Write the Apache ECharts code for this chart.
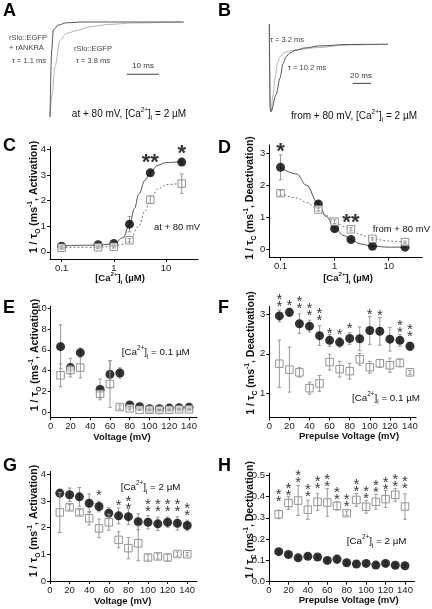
<!DOCTYPE html>
<html><head><meta charset="utf-8">
<script src="https://cdn.jsdelivr.net/npm/echarts@6/dist/echarts.min.js"></script>
<style>html,body{margin:0;padding:0;background:#fff}#c{width:432px;height:609px}</style>
</head><body><div id="c"></div>
<script>
const FONT = '"Liberation Sans", Arial, Helvetica, sans-serif';

// ---------- Panel A: activation traces (ms, normalised current)
const aTimeDark  = [0, 0.53, 1.03, 2.6, 5.2, 10.3, 41.9];
const aCurDark   = [0, 0.705, 0.916, 0.968, 0.992, 1.0, 1.0];
const aTimeLight = [0, 0.63, 1.56, 3.13, 5.2, 8.34, 12.5, 18.75, 25.9, 41.25];
const aCurLight  = [0, 0.23, 0.53, 0.81, 0.88, 0.91, 0.95, 0.975, 0.99, 1.0];
const aBarTime = [24, 34]; const aBarLevel = 0.45;

// ---------- Panel B: deactivation traces
const bTimeDark  = [0, 1.0, 1.85, 7.3, 11.7, 14.9, 18.2, 22.6, 28.0, 38.9, 55.1, 86.9, 129.4];
const bCurDark   = [0.30, -0.95, -1, -0.752, -0.5, -0.292, -0.184, -0.129, -0.092, -0.055, -0.025, -0.003, 0];
const bTimeLight = [0, 1.0, 1.85, 4.03, 6.2, 8.9, 11.7, 16.0, 22.6, 33.5, 50.9, 86.9, 129.4];
const bCurLight  = [0.30, -0.95, -1, -0.752, -0.5, -0.277, -0.184, -0.122, -0.099, -0.077, -0.05, -0.01, 0];
const bBarTime = [91, 111]; const bBarLevel = -0.58;

// ---------- Panel C
const cConc = [0.1, 0.5, 1, 2, 5, 20];
const cFilled = [0.22, 0.28, 0.32, 1.08, 3.08, 3.5];
const cFilledErr = [0.04, 0.05, 0.06, 0.3, 0.1, 0.08];
const cOpen = [0.16, 0.18, 0.2, 0.45, 2.03, 2.66];
const cOpenErr = [0.04, 0.04, 0.05, 0.07, 0.15, 0.38];
const cFitSolidX = [0.1, 0.5, 1, 1.5, 2, 2.5, 3, 4, 5, 7, 10, 20];
const cFitSolidY = [0.24, 0.26, 0.31, 0.55, 1.05, 1.7, 2.25, 2.8, 3.1, 3.38, 3.48, 3.52];
const cFitDotX = [0.1, 0.5, 1, 1.5, 2, 3, 4, 5, 7, 10, 20];
const cFitDotY = [0.17, 0.18, 0.21, 0.3, 0.45, 1.0, 1.6, 2.03, 2.45, 2.62, 2.68];
const cStarX = [5, 20]; const cStarY = [3.66, 4.01]; const cStarN = [2, 1];

// ---------- Panel D
const dConc = [0.1, 0.5, 1, 2, 5, 20];
const dFilled = [2.56, 1.41, 0.64, 0.30, 0.09, 0.06];
const dFilledErr = [0.39, 0.08, 0.08, 0.05, 0.03, 0.02];
const dOpen = [1.75, 1.24, 0.86, 0.62, 0.32, 0.22];
const dOpenErr = [0.08, 0.05, 0.06, 0.05, 0.04, 0.03];
const dFitSolidX = [0.1, 0.2, 0.3, 0.5, 0.7, 1, 1.5, 2, 3, 5, 10, 20];
const dFitSolidY = [2.56, 2.35, 2.0, 1.42, 1.02, 0.66, 0.42, 0.29, 0.16, 0.09, 0.06, 0.06];
const dFitDotX = [0.1, 0.2, 0.3, 0.5, 0.7, 1, 1.5, 2, 3, 5, 10, 20];
const dFitDotY = [1.75, 1.6, 1.46, 1.24, 1.05, 0.86, 0.7, 0.6, 0.45, 0.32, 0.25, 0.22];
const dStarX = [0.1, 2]; const dStarY = [3.21, 0.96]; const dStarN = [1, 2];

// ---------- Panel E
const eVolt = [10, 20, 30, 50, 60, 70, 80, 90, 100, 110, 120, 130, 140];
const eFilled = [6.3, 4.28, 5.72, 2.18, 3.63, 3.76, 0.68, 0.51, 0.32, 0.32, 0.38, 0.42, 0.45];
const eFilledErr = [2.1, 0.9, 0.45, 1.0, 1.3, 0.5, 0.15, 0.1, 0.05, 0.05, 0.05, 0.05, 0.05];
const eOpen = [3.54, 4.05, 4.28, 1.74, 2.7, 0.48, 0.35, 0.22, 0.22, 0.2, 0.22, 0.26, 0.26];
const eOpenErr = [1.1, 0.4, 1.0, 0.3, 2.25, 0.2, 0.15, 0.05, 0.05, 0.05, 0.05, 0.05, 0.05];

// ---------- Panel F
const fVolt = [10, 20, 30, 40, 50, 60, 70, 80, 90, 100, 110, 120, 130, 140];
const fFilled = [2.96, 3.05, 2.76, 2.7, 2.46, 2.34, 2.29, 2.39, 2.38, 2.59, 2.57, 2.37, 2.34, 2.19];
const fFilledErr = [0.15, 0.1, 0.25, 0.15, 0.25, 0.15, 0.12, 0.15, 0.3, 0.35, 0.35, 0.3, 0.15, 0.1];
const fOpen = [1.75, 1.6, 1.53, 1.13, 1.25, 1.79, 1.61, 1.56, 1.86, 1.66, 1.76, 1.71, 1.77, 1.53];
const fOpenErr = [0.6, 0.57, 0.12, 0.15, 0.2, 0.2, 0.2, 0.2, 0.15, 0.15, 0.1, 0.18, 0.1, 0.05];
const fStarX = [10, 20, 30, 40, 50, 60, 70, 80, 100, 110, 130, 140];
const fStarY = [3.36, 3.30, 3.31, 3.15, 3.0, 2.6, 2.58, 2.73, 3.07, 3.05, 2.70, 2.6];
const fStarN = [2, 1, 2, 2, 2, 1, 1, 1, 1, 1, 2, 2];

// ---------- Panel G
const gVolt = [10, 20, 30, 40, 50, 60, 70, 80, 90, 100, 110, 120, 130, 140];
const gFilled = [3.29, 3.23, 3.15, 2.91, 2.79, 2.54, 2.44, 2.41, 2.22, 2.2, 2.14, 2.2, 2.16, 2.08];
const gFilledErr = [0.15, 0.25, 0.35, 0.35, 0.2, 0.2, 0.3, 0.3, 0.3, 0.25, 0.25, 0.2, 0.25, 0.2];
const gOpen = [2.57, 2.76, 2.57, 2.35, 1.97, 2.2, 1.54, 1.23, 1.41, 0.88, 0.92, 0.88, 1.01, 1.0];
const gOpenErr = [0.75, 0.1, 0.1, 0.25, 0.35, 0.3, 0.3, 0.4, 0.65, 0.1, 0.1, 0.12, 0.08, 0.06];
const gStarX = [50, 70, 80, 100, 110, 120, 130, 140];
const gStarY = [3.31, 2.95, 2.96, 2.85, 2.85, 2.85, 2.85, 2.71];
const gStarN = [1, 1, 2, 2, 2, 2, 2, 2];

// ---------- Panel H
const hVolt = [10, 20, 30, 40, 50, 60, 70, 80, 90, 100, 110, 120, 130, 140];
const hFilled = [0.141, 0.128, 0.112, 0.119, 0.116, 0.10, 0.106, 0.089, 0.083, 0.086, 0.078, 0.086, 0.077, 0.075];
const hFilledErr = [0.008, 0.008, 0.008, 0.008, 0.008, 0.008, 0.02, 0.008, 0.008, 0.01, 0.008, 0.01, 0.008, 0.008];
const hOpen = [0.316, 0.369, 0.381, 0.338, 0.375, 0.372, 0.356, 0.322, 0.384, 0.352, 0.375, 0.388, 0.408, 0.353];
const hOpenErr = [0.02, 0.03, 0.07, 0.045, 0.04, 0.065, 0.02, 0.01, 0.03, 0.03, 0.035, 0.04, 0.03, 0.06];
const hStarX = [10, 20, 30, 40, 50, 60, 70, 80, 90, 100, 110, 120, 130, 140];
const hStarY = [0.406, 0.434, 0.495, 0.429, 0.468, 0.476, 0.416, 0.385, 0.453, 0.421, 0.448, 0.465, 0.476, 0.471];
const hStarN = [2, 2, 2, 2, 2, 2, 2, 2, 2, 2, 2, 2, 2, 2];

// ---------- tick values
const logTicks = [0.1, 1, 10];
const voltTicks = [0, 20, 40, 60, 80, 100, 120, 140];

const zip = (a, b) => a.map((v, i) => [v, b[i]]);
const grids = [], xAxes = [], yAxes = [], series = [];

function mainAxis(gi, type, min, max, ticks, fmt, pos) {
  return {gridIndex: gi, type, min, max, position: pos,
    axisLine: {show: true, onZero: false, lineStyle: {color: '#000', width: 1}},
    axisTick: {show: true, inside: false, length: 3, customValues: ticks, lineStyle: {color: '#000', width: 1}},
    axisLabel: {show: true, customValues: ticks, formatter: fmt, fontSize: 9.5, fontFamily: FONT, color: '#222', margin: 4, hideOverlap: false},
    splitLine: {show: false}, minorTick: {show: false}, minorSplitLine: {show: false}};
}
function errBar(xi, yi, xs, ys, es, color, z) {
  return {type: 'custom', xAxisIndex: xi, yAxisIndex: yi, z, silent: true, clip: false,
    data: xs.map((x, i) => [x, ys[i], es[i]]),
    encode: {x: 0, y: 1},
    renderItem: (params, api) => {
      const x = api.value(0), y = api.value(1), e = api.value(2);
      const t = api.coord([x, y + e]), b = api.coord([x, y - e]);
      const w = 1.8, st = {stroke: color, lineWidth: 1};
      return {type: 'group', children: [
        {type: 'line', shape: {x1: t[0], y1: t[1], x2: b[0], y2: b[1]}, style: st},
        {type: 'line', shape: {x1: t[0] - w, y1: t[1], x2: t[0] + w, y2: t[1]}, style: st},
        {type: 'line', shape: {x1: b[0] - w, y1: b[1], x2: b[0] + w, y2: b[1]}, style: st}]};
    }};
}
function stars(xi, yi, xs, ys, ns, big) {
  return {type: 'scatter', xAxisIndex: xi, yAxisIndex: yi, z: 8, clip: false, silent: true,
    symbol: 'circle', symbolSize: 1, itemStyle: {color: 'rgba(0,0,0,0)'},
    data: xs.map((x, i) => [x, ys[i], ns[i]]),
    label: {show: true, position: 'inside', color: '#000', fontFamily: FONT,
      fontSize: big ? 22 : 15, fontWeight: big ? 'bold' : 'normal', lineHeight: 7,
      offset: big ? [0, 5] : [0, 3.5],
      formatter: p => big ? (p.data[2] === 2 ? '**' : '*') : (p.data[2] === 2 ? '*\n*' : '*')}};
}

function dataPanel(c) {
  const gi = grids.length; grids.push(c.grid);
  const xt = c.xType || 'value';
  xAxes.push(mainAxis(gi, xt, c.xMin, c.xMax, c.xTicks, c.xFmt, 'bottom')); const xi = xAxes.length - 1;
  yAxes.push(mainAxis(gi, 'value', c.yMin, c.yMax, c.yTicks, c.yFmt, 'left')); const yi = yAxes.length - 1;
  if (xt === 'log') xAxes[xi].logBase = 10;
  series.push(errBar(xi, yi, c.x, c.filled, c.filledErr, '#9a9a9a', 2));
  if (c.fitSolid) {
    series.push({type: 'line', xAxisIndex: xi, yAxisIndex: yi, z: 2, silent: true, data: c.fitSolid, showSymbol: false, symbol: 'none', smooth: 0.4, smoothMonotone: 'x', lineStyle: {color: '#555', width: 1}});
    series.push({type: 'line', xAxisIndex: xi, yAxisIndex: yi, z: 2, silent: true, data: c.fitDot, showSymbol: false, symbol: 'none', smooth: 0.4, smoothMonotone: 'x', lineStyle: {color: '#777', width: 1, type: [2, 2]}});
  }
  series.push({type: 'scatter', xAxisIndex: xi, yAxisIndex: yi, z: 3, clip: false, silent: true, data: zip(c.x, c.filled), symbol: 'circle', symbolSize: 9, itemStyle: {color: '#000'}});
  series.push({type: 'scatter', xAxisIndex: xi, yAxisIndex: yi, z: 4, clip: false, silent: true, data: zip(c.x, c.open), symbol: 'rect', symbolSize: 7.5, itemStyle: {color: '#fff', borderColor: '#7a7a7a', borderWidth: 1}});
  series.push(errBar(xi, yi, c.x, c.open, c.openErr, '#9a9a9a', 5));
  if (c.stars) series.push(stars(xi, yi, c.stars[0], c.stars[1], c.stars[2], c.bigStars));
}

// ---------- trace panels A, B
function tracePanel(grid, xMin, xMax, yMin, yMax, traces, bar) {
  const gi = grids.length; grids.push(grid);
  xAxes.push({gridIndex: gi, type: 'value', min: xMin, max: xMax, show: false});
  yAxes.push({gridIndex: gi, type: 'value', min: yMin, max: yMax, show: false});
  const xi = xAxes.length - 1, yi = yAxes.length - 1;
  traces.forEach(t => series.push({type: 'line', xAxisIndex: xi, yAxisIndex: yi, silent: true, clip: false, data: zip(t[0], t[1]), showSymbol: false, symbol: 'none', smooth: 0.3, smoothMonotone: 'x', lineStyle: {color: t[2], width: 1}, z: t[3]}));
  series.push({type: 'line', xAxisIndex: xi, yAxisIndex: yi, silent: true, data: [[bar[0][0], bar[1]], [bar[0][1], bar[1]]], showSymbol: false, symbol: 'none', lineStyle: {color: '#444', width: 1}});
}

tracePanel({left: 50, top: 22, width: 144, height: 95}, 0, 45, 0, 1,
  [[aTimeLight, aCurLight, '#b4b4b4', 2], [aTimeDark, aCurDark, '#555', 3]], [aBarTime, aBarLevel]);
tracePanel({left: 269.3, top: 24, width: 119.2, height: 87.7}, 0, 130, -1, 0.3,
  [[bTimeLight, bCurLight, '#b4b4b4', 2], [bTimeDark, bCurDark, '#555', 3]], [bBarTime, bBarLevel]);

dataPanel({grid: {left: 50, top: 146.7, width: 148, height: 112.3}, xType: 'log', xMin: 0.06, xMax: 41,
  xTicks: logTicks, xFmt: v => String(v), yMin: -0.28, yMax: 4.1, yTicks: [0, 1, 2, 3, 4], yFmt: v => String(v),
  x: cConc, filled: cFilled, filledErr: cFilledErr, open: cOpen, openErr: cOpenErr,
  fitSolid: zip(cFitSolidX, cFitSolidY), fitDot: zip(cFitDotX, cFitDotY), stars: [cStarX, cStarY, cStarN], bigStars: true});
dataPanel({grid: {left: 269.3, top: 145, width: 153, height: 112.7}, xType: 'log', xMin: 0.062, xMax: 41.7,
  xTicks: logTicks, xFmt: v => String(v), yMin: -0.27, yMax: 3.26, yTicks: [0, 1, 2, 3], yFmt: v => String(v),
  x: dConc, filled: dFilled, filledErr: dFilledErr, open: dOpen, openErr: dOpenErr,
  fitSolid: zip(dFitSolidX, dFitSolidY), fitDot: zip(dFitDotX, dFitDotY), stars: [dStarX, dStarY, dStarN], bigStars: true});
dataPanel({grid: {left: 50.7, top: 306.2, width: 146.2, height: 111}, xMin: 0, xMax: 148,
  xTicks: voltTicks, xFmt: v => String(v), yMin: -0.5, yMax: 10.2, yTicks: [0, 2, 4, 6, 8, 10], yFmt: v => String(v),
  x: eVolt, filled: eFilled, filledErr: eFilledErr, open: eOpen, openErr: eOpenErr});
dataPanel({grid: {left: 269.3, top: 306.4, width: 146.7, height: 111}, xMin: 0, xMax: 146,
  xTicks: voltTicks, xFmt: v => String(v), yMin: 0.39, yMax: 3.2, yTicks: [1, 2, 3], yFmt: v => String(v),
  x: fVolt, filled: fFilled, filledErr: fFilledErr, open: fOpen, openErr: fOpenErr, stars: [fStarX, fStarY, fStarN]});
dataPanel({grid: {left: 50, top: 471.5, width: 147, height: 109.5}, xMin: 0, xMax: 150,
  xTicks: voltTicks, xFmt: v => String(v), yMin: 0, yMax: 4.1, yTicks: [0, 1, 2, 3, 4], yFmt: v => String(v),
  x: gVolt, filled: gFilled, filledErr: gFilledErr, open: gOpen, openErr: gOpenErr, stars: [gStarX, gStarY, gStarN]});
dataPanel({grid: {left: 269, top: 473.1, width: 145.7, height: 108.6}, xMin: 0, xMax: 150,
  xTicks: voltTicks, xFmt: v => String(v), yMin: 0, yMax: 0.51, yTicks: [0, 0.1, 0.2, 0.3, 0.4, 0.5], yFmt: v => v.toFixed(1),
  x: hVolt, filled: hFilled, filledErr: hFilledErr, open: hOpen, openErr: hOpenErr, stars: [hStarX, hStarY, hStarN]});

// ---------- text
function rich(size, weight) {
  const s = Math.round(size * 0.65 * 10) / 10;
  return {
    n: {fontSize: size, fontWeight: weight, fontFamily: FONT, lineHeight: size + 5, fill: '#111'},
    sup: {fontSize: s, fontWeight: weight, fontFamily: FONT, verticalAlign: 'top', lineHeight: s + 1, fill: '#111'},
    sub: {fontSize: s, fontWeight: weight, fontFamily: FONT, verticalAlign: 'bottom', lineHeight: s + 1, fill: '#111'}
  };
}
function txt(x, y, text, o) {
  o = o || {};
  return {type: 'text', x, y, rotation: o.rot || 0, silent: true, z: 20,
    style: {text, x: 0, y: 0, fill: o.color || '#222', fontSize: o.size || 9.5, fontWeight: o.weight || 'normal',
      fontFamily: FONT, align: o.align || 'center', verticalAlign: 'middle', rich: o.rich}};
}
const R = Math.PI / 2;
const caTxt = '{n|[Ca}{sup|2+}{n|]}{sub|i}';
const actT = '{n|1 / τ}{sub|O}{n| (ms}{sup|-1}{n|, Activation)}';
const deaT = '{n|1 / τ}{sub|C}{n| (ms}{sup|-1}{n|, Deactivation)}';
const deaT2 = '{n|1 / τ}{sub|C}{n| (ms}{sup|-1}{n|, Dectivation)}';
const graphics = [
  txt(3, 11, 'A', {size: 18, weight: 'bold', align: 'left', color: '#000'}),
  txt(218, 11, 'B', {size: 18, weight: 'bold', align: 'left', color: '#000'}),
  txt(3, 146.5, 'C', {size: 18, weight: 'bold', align: 'left', color: '#000'}),
  txt(218, 148, 'D', {size: 18, weight: 'bold', align: 'left', color: '#000'}),
  txt(3, 308, 'E', {size: 18, weight: 'bold', align: 'left', color: '#000'}),
  txt(218, 308, 'F', {size: 18, weight: 'bold', align: 'left', color: '#000'}),
  txt(3, 466.5, 'G', {size: 18, weight: 'bold', align: 'left', color: '#000'}),
  txt(218, 466.5, 'H', {size: 18, weight: 'bold', align: 'left', color: '#000'}),
  txt(9, 38, 'rSlo::EGFP', {size: 7.5, align: 'left', color: '#444'}),
  txt(9, 48.3, '+ rANKRA', {size: 7.5, align: 'left', color: '#444'}),
  txt(12, 60.5, 'τ = 1.1 ms', {size: 7.5, align: 'left', color: '#444'}),
  txt(74, 49.3, 'rSlo::EGFP', {size: 7.5, align: 'left', color: '#444'}),
  txt(76, 61, 'τ = 3.8 ms', {size: 7.5, align: 'left', color: '#444'}),
  txt(143, 66, '10 ms', {size: 8, color: '#333'}),
  txt(129, 114, '{n|at + 80 mV, [Ca}{sup|2+}{n|]}{sub|i}{n| = 2 µM}', {rich: rich(10, 'normal')}),
  txt(270, 40, 'τ = 3.2 ms', {size: 7.5, align: 'left', color: '#444'}),
  txt(288, 68, 'τ = 10.2 ms', {size: 7.5, align: 'left', color: '#444'}),
  txt(361, 76, '20 ms', {size: 8, color: '#333'}),
  txt(354, 116, '{n|from + 80 mV, [Ca}{sup|2+}{n|]}{sub|i}{n| = 2 µM}', {rich: rich(10, 'normal')}),
  txt(154, 227.7, 'at + 80 mV', {size: 9.5, align: 'left', color: '#111'}),
  txt(372.7, 229, 'from + 80 mV', {size: 9.5, align: 'left', color: '#111'}),
  txt(121.7, 352.7, caTxt + '{n| = 0.1 µM}', {align: 'left', rich: rich(9.8, 'normal')}),
  txt(352, 398.3, caTxt + '{n| = 0.1 µM}', {align: 'left', rich: rich(9.8, 'normal')}),
  txt(120.7, 487.7, caTxt + '{n| = 2 µM}', {align: 'left', rich: rich(9.8, 'normal')}),
  txt(346.7, 541.7, caTxt + '{n| = 2 µM}', {align: 'left', rich: rich(9.8, 'normal')}),
  txt(34, 197, actT, {rot: R, rich: rich(10.5, 'bold')}),
  txt(250, 198, deaT, {rot: R, rich: rich(10.5, 'bold')}),
  txt(35, 355, actT, {rot: R, rich: rich(10.5, 'bold')}),
  txt(251, 353, deaT, {rot: R, rich: rich(10.5, 'bold')}),
  txt(34, 521, actT, {rot: R, rich: rich(10.5, 'bold')}),
  txt(250, 520, deaT2, {rot: R, rich: rich(10.5, 'bold')}),
  txt(120, 278.5, caTxt + '{n| (µM)}', {rich: rich(9.5, 'bold')}),
  txt(348, 278.5, caTxt + '{n| (µM)}', {rich: rich(9.5, 'bold')}),
  txt(122, 437.7, 'Voltage (mV)', {size: 9.5, weight: 'bold', color: '#111'}),
  txt(349, 436, 'Prepulse Voltage (mV)', {size: 9.5, weight: 'bold', color: '#111'}),
  txt(122.7, 601.7, 'Voltage (mV)', {size: 9.5, weight: 'bold', color: '#111'}),
  txt(348.7, 600.7, 'Prepulse Voltage (mV)', {size: 9.5, weight: 'bold', color: '#111'})
];

const chart = echarts.init(document.getElementById('c'), null, {renderer: 'canvas'});
chart.setOption({animation: false, backgroundColor: '#fff', grid: grids, xAxis: xAxes, yAxis: yAxes, series, graphic: graphics});
</script></body></html>
